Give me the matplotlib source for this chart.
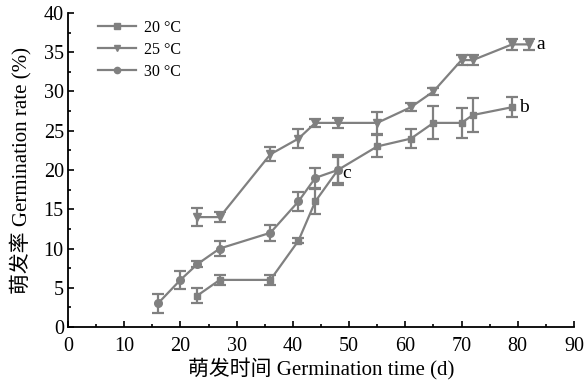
import matplotlib
matplotlib.use("Agg")
import matplotlib.pyplot as plt
from matplotlib.ticker import MultipleLocator
from matplotlib.lines import Line2D

plt.rcParams['font.family'] = ['Liberation Serif', 'Noto Sans CJK SC']
plt.rcParams['mathtext.fontset'] = 'stix'

x20 = [23, 27, 36, 41, 44, 48, 55, 61, 65, 70, 72, 79]
y20 = [4, 6, 6, 11, 16, 20, 23, 24, 26, 26, 27, 28]
e20 = [1.0, 0.6, 0.6, 0.3, 1.6, 1.6, 1.4, 1.2, 2.1, 1.9, 2.2, 1.3]

x25 = [23, 27, 36, 41, 44, 48, 55, 61, 65, 70, 72, 79, 82]
y25 = [14, 14, 22, 24, 26, 26, 26, 28, 30, 34, 34, 36, 36]
e25 = [1.1, 0.6, 0.9, 1.2, 0.5, 0.6, 1.4, 0.5, 0.5, 0.6, 0.6, 0.7, 0.7]

x30 = [16, 20, 23, 27, 36, 41, 44, 48]
y30 = [3, 6, 8, 10, 12, 16, 19, 20]
e30 = [1.2, 1.1, 0.4, 1.0, 1.0, 1.2, 1.3, 1.9]

labels = ['20 °C', '25 °C', '30 °C']
markers = ['s', 'v', 'o']
letters = [('a', 83.3, 36), ('b', 80.3, 28), ('c', 48.7, 19.6)]

fig = plt.figure(figsize=(5.88, 3.90), dpi=100)
ax = fig.add_axes([0.1156, 0.1615, 0.8605, 0.8052])

color = '#808080'
msizes = [4.5, 5.5, 5.5]
kw = dict(color=color, lw=1.6, elinewidth=1.6, capsize=4, capthick=1.6)
for xs, ys, es, m, ms in [(x20, y20, e20, markers[0], msizes[0]),
                          (x25, y25, e25, markers[1], msizes[1]),
                          (x30, y30, e30, markers[2], msizes[2])]:
    ax.errorbar(xs, ys, yerr=es, marker=m, markersize=ms, **kw)

for t, xx, yy in letters:
    ax.text(xx, yy, t, fontsize=14, va='center', ha='left')

ax.set_xlim(0, 90)
ax.set_ylim(0, 40)
ax.xaxis.set_major_locator(MultipleLocator(10))
ax.xaxis.set_minor_locator(MultipleLocator(5))
ax.yaxis.set_major_locator(MultipleLocator(5))
ax.yaxis.set_minor_locator(MultipleLocator(2.5))
ax.tick_params(which='both', direction='in', labelsize=14.5, width=1.2)
ax.tick_params(which='major', length=4)
ax.tick_params(which='minor', length=2)
ax.tick_params(axis='x', pad=7)
ax.tick_params(axis='y', pad=3)
for s in ['top', 'right']:
    ax.spines[s].set_visible(False)
for s in ['left', 'bottom']:
    ax.spines[s].set_linewidth(1.3)

ax.set_xlabel('萌发时间 Germination time (d)', fontsize=15, labelpad=2)
ax.set_ylabel('萌发率 Germination rate (%)', fontsize=15, labelpad=9)

handles = [Line2D([], [], color=color, lw=1.6, marker=m, markersize=4.5) for m in markers]
leg = ax.legend(handles, labels, loc='upper left', bbox_to_anchor=(0.03, 1.025), frameon=False,
                fontsize=11.5, handlelength=2.4, labelspacing=0.38, handletextpad=0.5)

fig.savefig('out.png', dpi=100)
